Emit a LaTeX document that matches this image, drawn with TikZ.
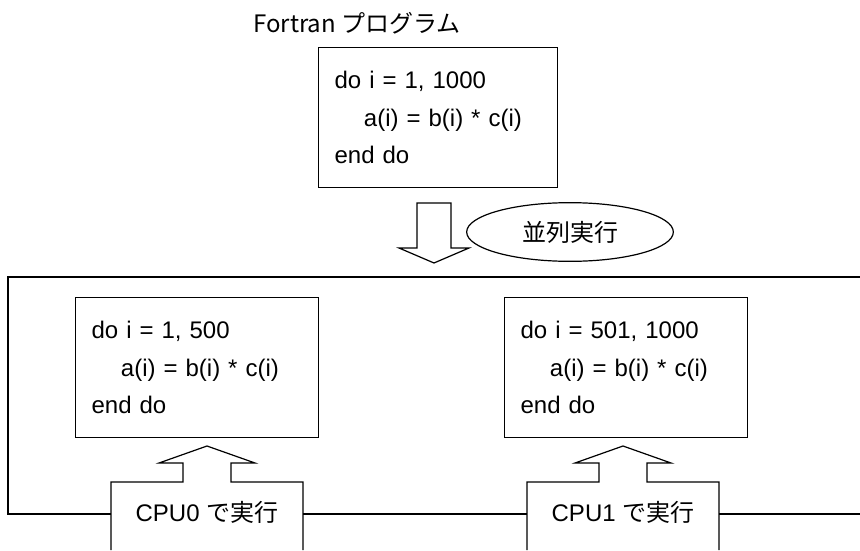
\documentclass[tikz,border=0pt]{standalone}
\usepackage{fontspec}
\setmainfont{Liberation Sans}
\newfontfamily\jp{Noto Sans CJK JP}
\usetikzlibrary{positioning}
\usetikzlibrary{shapes.geometric}

\tikzset{
  codebox/.style={draw, line width=0.9pt, anchor=north west, align=left,
    minimum height=105pt, inner xsep=12pt, inner ysep=0pt, text width=158pt,
    font=\fontsize{18}{28}\selectfont},
  label/.style={font=\fontsize{18}{22}\selectfont},
  outline/.style={line width=0.9pt}
}

\begin{document}
\begin{tikzpicture}[x=0.75pt, y=-0.75pt]
  \useasboundingbox (0,0) rectangle (860,550);

  % Source program
  \node[label] (title) at (357,23) {{\jp Fortran プログラム}};
  \node[codebox, text width=155pt] (srcloop) at (318,47)
    {do i = 1, 1000\\ \hspace*{22pt}a(i) = b(i) * c(i)\\ end do};

  % Parallel step
  \draw[outline] (417,203) -- (451,203) -- (451,248) -- (469,248)
    -- (434,263) -- (399,248) -- (417,248) -- cycle;
  \node[draw, outline, ellipse, minimum width=155pt, minimum height=44pt, inner sep=0pt,
    label] (parlabel) at (570,232) {\jp 並列実行};

  % Outer frame
  \draw[outline] (111,514) -- (8,514) -- (8,277) -- (860,277);
  \draw[outline] (303,514) -- (527,514);
  \draw[outline] (719,514) -- (860,514);

  % Split loops
  \node[codebox] (loopA) at (75,297)
    {do i = 1, 500\\ \hspace*{22pt}a(i) = b(i) * c(i)\\ end do};
  \node[codebox] (loopB) at (504,297)
    {do i = 501, 1000\\ \hspace*{22pt}a(i) = b(i) * c(i)\\ end do};

  % CPU boxes
  \draw[outline] (111,550) -- (111,482) -- (183,482) -- (183,463) -- (159,463)
    -- (207,446) -- (255,463) -- (231,463) -- (231,482) -- (303,482) -- (303,550);
  \node[label] (cpuA) at (207,512) {CPU0 {\jp で実行}};
  \draw[outline] (527,550) -- (527,482) -- (599,482) -- (599,463) -- (575,463)
    -- (623,446) -- (671,463) -- (647,463) -- (647,482) -- (719,482) -- (719,550);
  \node[label] (cpuB) at (623,512) {CPU1 {\jp で実行}};
\end{tikzpicture}
\end{document}
